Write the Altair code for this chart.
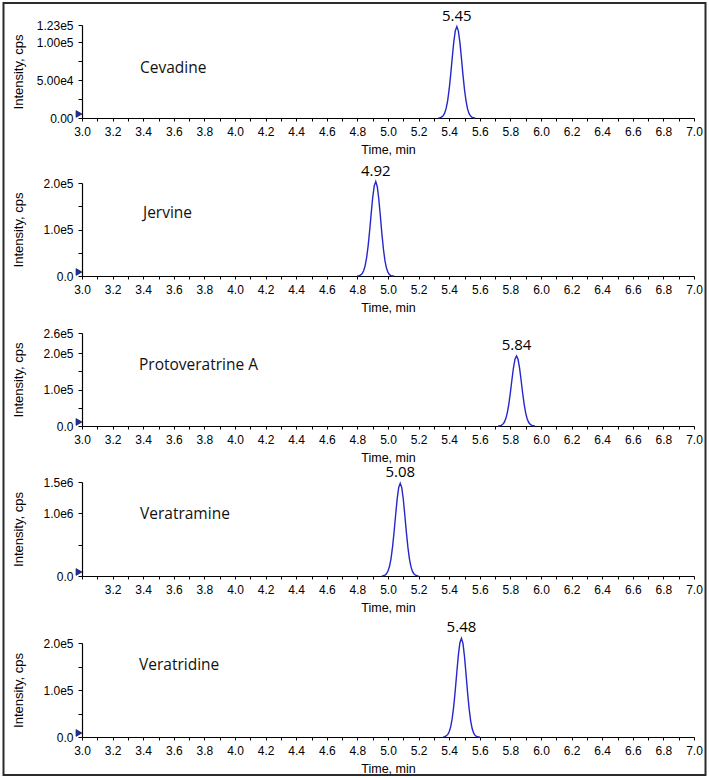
import altair as alt
import pandas as pd

# ---------------- data ----------------
compounds = ["Cevadine", "Jervine", "Protoveratrine A", "Veratramine", "Veratridine"]
peak_rt = [5.45, 4.92, 5.84, 5.08, 5.48]
peak_labels = ["5.45", "4.92", "5.84", "5.08", "5.48"]
peak_height = [121000, 203000, 192000, 1480000, 210000]

cev_time = [5.33, 5.34, 5.35, 5.36, 5.37, 5.38, 5.39, 5.40, 5.41, 5.42, 5.43, 5.44, 5.45,
            5.46, 5.47, 5.48, 5.49, 5.50, 5.51, 5.52, 5.53, 5.54, 5.55, 5.56, 5.57]
cev_int = [0, 500, 1200, 2900, 6400, 12700, 23100, 38400, 58100, 80000, 100700, 115500, 121000,
           115000, 100000, 79000, 57000, 37500, 22500, 12000, 5800, 2500, 900, 300, 0]

jer_time = [4.80, 4.81, 4.82, 4.83, 4.84, 4.85, 4.86, 4.87, 4.88, 4.89, 4.90, 4.91, 4.92,
            4.93, 4.94, 4.95, 4.96, 4.97, 4.98, 4.99, 5.00, 5.01, 5.02, 5.03, 5.04]
jer_int = [0, 800, 2000, 4900, 10800, 21300, 38800, 64400, 97400, 134200, 168900, 193900, 203000,
           192000, 165000, 129000, 91000, 58000, 33000, 17000, 7500, 2800, 900, 200, 0]

pro_time = [5.72, 5.73, 5.74, 5.75, 5.76, 5.77, 5.78, 5.79, 5.80, 5.81, 5.82, 5.83, 5.84,
            5.85, 5.86, 5.87, 5.88, 5.89, 5.90, 5.91, 5.92, 5.93, 5.94, 5.95, 5.96]
pro_int = [0, 800, 1900, 4600, 10200, 20200, 36700, 60900, 92200, 126900, 159700, 183400, 192000,
           183000, 158500, 125500, 90500, 59500, 35500, 19200, 9500, 4200, 1600, 500, 0]

vtm_time = [4.96, 4.97, 4.98, 4.99, 5.00, 5.01, 5.02, 5.03, 5.04, 5.05, 5.06, 5.07, 5.08,
            5.09, 5.10, 5.11, 5.12, 5.13, 5.14, 5.15, 5.16, 5.17, 5.18, 5.19, 5.20]
vtm_int = [0, 5900, 14800, 35500, 78400, 155400, 282700, 469200, 710400, 978300, 1231400, 1413400, 1480000,
           1410000, 1225000, 970000, 700000, 460000, 275000, 150000, 74000, 33000, 13000, 5000, 0]

vtd_time = [5.36, 5.37, 5.38, 5.39, 5.40, 5.41, 5.42, 5.43, 5.44, 5.45, 5.46, 5.47, 5.48,
            5.49, 5.50, 5.51, 5.52, 5.53, 5.54, 5.55, 5.56, 5.57, 5.58, 5.59, 5.60]
vtd_int = [0, 800, 2100, 5000, 11100, 22100, 40100, 66600, 100800, 138800, 174700, 200600, 210000,
           199000, 171000, 134000, 95000, 61000, 35000, 18000, 8000, 3000, 1000, 300, 0]

times = [cev_time, jer_time, pro_time, vtm_time, vtd_time]
intensities = [cev_int, jer_int, pro_int, vtm_int, vtd_int]

y_top = [123000, 200000, 255000, 1500000, 200000]
y_ticks = [
    [0, 25000, 50000, 75000, 100000, 123000],
    [0, 50000, 100000, 150000, 200000],
    [0, 50000, 100000, 150000, 200000, 255000],
    [0, 500000, 1000000, 1500000],
    [0, 50000, 100000, 150000, 200000],
]
y_tick_labels = [
    ["0.00", "", "5.00e4", "", "1.00e5", "1.23e5"],
    ["0.0", "", "1.0e5", "", "2.0e5"],
    ["0.0", "", "1.0e5", "", "2.0e5", "2.6e5"],
    ["0.0", "", "1.0e6", "1.5e6"],
    ["0.0", "", "1.0e5", "", "2.0e5"],
]
x_ticks = [round(3.0 + 0.1 * i, 1) for i in range(41)]

# ---------------- layout / style ----------------
PLOT_W = 612
plot_h = [93, 93, 93, 94, 94]
extra = [0, 9, 1, 0, 11]
name_x = [58, 61, 57, 58, 57]
name_y = [43, 30, 32, 32, 22]
LINE_COLOR = "#2626cc"
AX_FONT = "Liberation Sans"
TXT_FONT = "Open Sans"


def y_label_expr(vals, labs):
    parts = []
    for v, l in zip(vals, labs):
        parts.append(f"datum.value == {v} ? '{l}'")
    return " : ".join(parts) + " : ''"


def panel(i):
    cell_h = extra[i] + plot_h[i]
    if i == 3:
        xl = "datum.value < 3.05 || round(datum.value*10) % 2 != 0 ? '' : format(datum.value, '.1f')"
    else:
        xl = "round(datum.value*10) % 2 != 0 ? '' : format(datum.value, '.1f')"
    xaxis = alt.Axis(values=x_ticks, labelExpr=xl, title="Time, min", grid=False,
                     tickSize=3, labelPadding=5, labelFont=AX_FONT, labelFontSize=12,
                     labelColor="black", labelFlush=False, labelOverlap=False,
                     titleFont=AX_FONT, titleFontSize=12.5, titleFontWeight="normal",
                     titleColor="black", titleY=31, titleBaseline="middle",
                     domainColor="black", tickColor="black", domainWidth=1.2)
    yaxis = alt.Axis(values=y_ticks[i], labelExpr=y_label_expr(y_ticks[i], y_tick_labels[i]),
                     title="Intensity, cps", grid=False, tickSize=4, labelPadding=5,
                     labelFont=AX_FONT, labelFontSize=12, labelColor="black",
                     labelFlush=False, labelOverlap=False,
                     titleFont=AX_FONT, titleFontSize=13, titleFontWeight="normal",
                     titleColor="black", titleX=-64, titleY=extra[i] + plot_h[i] / 2,
                     titleBaseline="middle", domainColor="black", tickColor="black",
                     domainWidth=1.2)
    xenc = alt.X("time:Q", scale=alt.Scale(domain=[3.0, 7.0], nice=False), axis=xaxis)
    yenc = alt.Y("intensity:Q", scale=alt.Scale(domain=[0, y_top[i]], range=[cell_h, extra[i]],
                                                nice=False), axis=yaxis)

    df = pd.DataFrame({"time": times[i], "intensity": intensities[i]})
    line = alt.Chart(df).mark_line(color=LINE_COLOR, strokeWidth=1.4).encode(x=xenc, y=yenc)

    pk = pd.DataFrame({"time": [peak_rt[i]], "intensity": [peak_height[i]], "label": [peak_labels[i]]})
    peak = alt.Chart(pk).mark_text(font=TXT_FONT, fontSize=15, color="black", dy=-6,
                                   baseline="alphabetic").encode(x=xenc, y=yenc, text="label:N")

    nm = pd.DataFrame({"name": [compounds[i]]})
    name = alt.Chart(nm).mark_text(font=TXT_FONT, fontSize=15.5, color="#111111", align="left",
                                   baseline="middle").encode(
        x=alt.value(name_x[i]), y=alt.value(extra[i] + name_y[i]), text="name:N")

    marker = alt.Chart(pd.DataFrame({"k": [0]})).mark_point(
        shape="triangle-right", filled=True, size=45, color="#1c2ea8", opacity=1,
        stroke="#0d1660", strokeWidth=0.8).encode(x=alt.value(-3), y=alt.value(cell_h - 4))

    layers = [line, peak, name, marker]
    if i == 0:
        frame = alt.Chart(pd.DataFrame({"k": [0]})).mark_rect(
            fillOpacity=0, stroke="#2b2b2b", strokeWidth=2).encode(
            x=alt.value(-78.5), x2=alt.value(623.5), y=alt.value(-22), y2=alt.value(750))
        layers.append(frame)
    return alt.layer(*layers).properties(width=PLOT_W, height=cell_h)


chart = alt.vconcat(*[panel(i) for i in range(5)], spacing=56, bounds="flush").properties(
    padding={"left": 2, "top": 2, "right": 2, "bottom": 2},
    background="white",
).configure_view(stroke="transparent", strokeWidth=0)

chart.save("out.html", embed_options={"renderer": "svg", "actions": False})
